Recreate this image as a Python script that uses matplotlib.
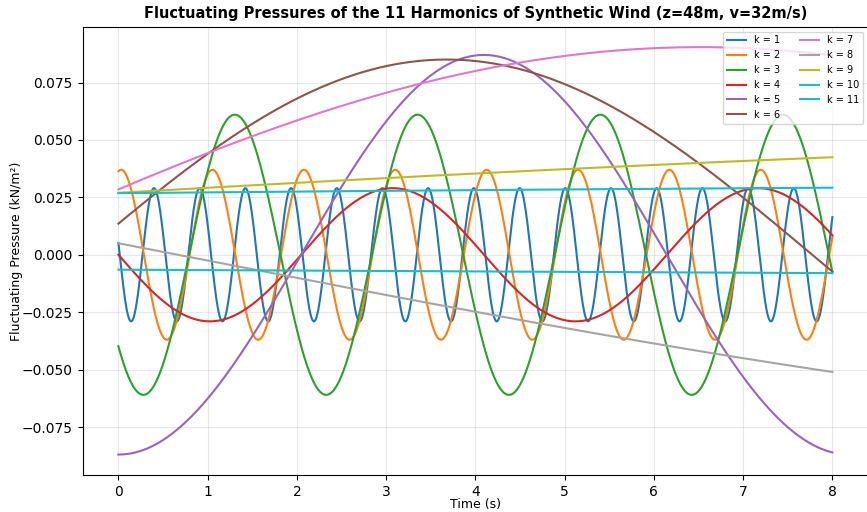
import numpy as np
import matplotlib
matplotlib.use('Agg')
import matplotlib.pyplot as plt

# harmonic parameters
harmonics = [1, 2, 3, 4, 5, 6, 7, 8, 9, 10, 11]
freqs = [1.953, 0.9766, 0.4883, 0.2441, 0.1221, 0.06104, 0.03052,
         0.01526, 0.00763, 0.003815, 0.001907]          # Hz
amps = [0.029, 0.037, 0.061, 0.029, 0.087, 0.085, 0.0904,
        0.0789, 0.0539, 0.0308, 0.01725]                # kN/m^2
phases = [-3.32, 1.387, -2.43, 3.1416, -1.5708, 0.16, 0.32,
          3.078, 0.524, 1.056, -2.755]                  # rad
colors = ['tab:blue', 'tab:orange', 'tab:green', 'tab:red', 'tab:purple',
          'tab:brown', 'tab:pink', '#a5a5a5', 'tab:olive', 'tab:cyan',
          'tab:cyan']

t = np.linspace(0, 8, 1601)

fig = plt.figure(figsize=(8.67, 5.12), dpi=100)
ax = fig.add_axes([82.7 / 867, 37 / 512, 785.4 / 867, 448.3 / 512])

for k, f, a, p, c in zip(harmonics, freqs, amps, phases, colors):
    ax.plot(t, a * np.sin(2 * np.pi * f * t + p), color=c, lw=1.5,
            label=f'k = {k}')

ax.set_xlim(-0.4, 8.4)
ax.set_ylim(-0.0959, 0.0993)
ax.set_yticks([-0.075, -0.05, -0.025, 0, 0.025, 0.05, 0.075])
ax.grid(True, alpha=0.3)
ax.set_title('Fluctuating Pressures of the 11 Harmonics of Synthetic Wind (z=48m, v=32m/s)',
             fontsize=10.5, fontweight='bold')
ax.set_xlabel('Time (s)', fontsize=9)
ax.set_ylabel('Fluctuating Pressure (kN/m²)', fontsize=9)
ax.xaxis.set_label_coords((475 - 82.7) / 785.4, -0.052)
ax.yaxis.set_label_coords(-0.076, 0.5)
ax.legend(ncol=2, fontsize=7, loc='upper right')

fig.savefig('out.png', dpi=100)
